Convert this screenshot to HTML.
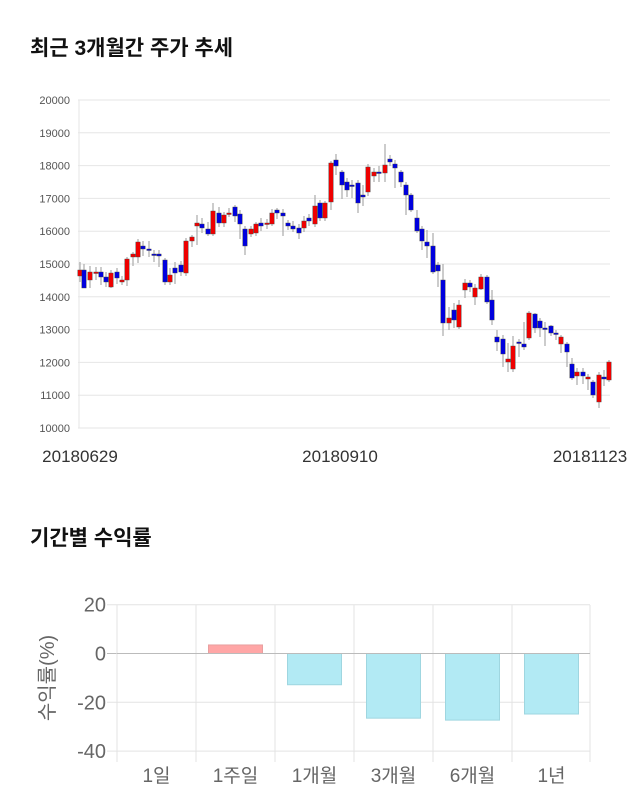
<!DOCTYPE html>
<html><head><meta charset="utf-8"><style>
body{margin:0;background:#fff;width:640px;height:810px;overflow:hidden}
svg{display:block}
</style></head><body>
<svg id="s" width="640" height="810" xmlns="http://www.w3.org/2000/svg" font-family="Liberation Sans, Noto Sans CJK KR, sans-serif">
<text x="30" y="55" font-size="21" font-weight="bold" fill="#111">최근 3개월간 주가 추세</text>
<text x="30" y="545" font-size="21" font-weight="bold" fill="#111">기간별 수익률</text>
<g id="grid"></g>
<g id="candles"></g>
<text x="80" y="462" font-size="17" fill="#333" text-anchor="middle">20180629</text>
<text x="340" y="462" font-size="17" fill="#333" text-anchor="middle">20180910</text>
<text x="590" y="462" font-size="17" fill="#333" text-anchor="middle">20181123</text>
<g id="bars"></g>
<text transform="translate(54,678) rotate(-90)" font-size="20" fill="#666" text-anchor="middle">수익률(%)</text>
</svg>
<script>
var ns="http://www.w3.org/2000/svg";
function el(p,t,a,txt){var e=document.createElementNS(ns,t);for(var k in a)e.setAttribute(k,a[k]);if(txt!=null)e.textContent=txt;document.getElementById(p).appendChild(e);return e;}
for(var i=0;i<=10;i++){var y=100+i*32.8;el('grid','line',{x1:78,x2:610,y1:y,y2:y,stroke:'#e6e6e6','stroke-width':1});
el('grid','text',{x:70,y:y+4,'font-size':11,fill:'#555','text-anchor':'end'},String(20000-i*1000));}
el('grid','line',{x1:79,x2:79,y1:100,y2:428,stroke:'#e6e6e6'});
var C=[[80,270,276,'r',262,282],[84,270,288,'b',264,288],[90,272,280,'r',266,288],[96,272,273,'r',267,280],[101,272,277,'b',267,285],[106,277,282,'b',272,287],[111,273,287,'r',270,288],[117,272,278,'b',268,284],[122,280,282,'r',276,285],[127,259,280,'r',257,286],[133,254,257,'r',252,266],[138,242,257,'r',239,263],[143,246,249,'b',241,256],[149,249,250,'b',241,257],[154,254,255,'b',250,262],[159,254,256,'b',250,267],[165,260,282,'b',258,285],[170,275,282,'r',268,285],[175,268,273,'b',262,284],[181,265,272,'b',261,276],[186,241,273,'r',238,276],[192,237,241,'r',235,247],[197,223,226,'r',215,245],[202,224,228,'b',218,233],[208,229,234,'b',222,236],[213,211,234,'r',203,236],[219,213,223,'b',207,227],[224,215,223,'r',212,227],[229,213,214,'r',208,217],[235,207,216,'b',205,222],[240,214,224,'b',210,239],[245,229,246,'b',226,255],[251,229,234,'r',226,237],[256,224,233,'r',222,236],[261,223,226,'b',218,231],[267,223,224,'r',219,229],[272,213,224,'r',209,226],[277,210,213,'b',208,219],[283,213,216,'b',209,236],[288,223,226,'b',220,230],[293,226,229,'b',221,232],[299,228,233,'b',224,239],[304,221,228,'r',216,232],[309,218,221,'b',214,226],[315,206,224,'r',195,227],[320,203,218,'b',200,221],[325,203,218,'r',201,221],[331,163,202,'r',161,210],[336,160,166,'b',154,175],[342,172,185,'b',170,199],[347,182,190,'b',178,197],[352,185,186,'b',180,198],[358,183,203,'b',180,213],[363,195,197,'b',185,206],[368,167,192,'r',164,196],[374,172,176,'r',168,182],[379,172,173,'b',166,182],[385,165,173,'r',144,182],[390,159,162,'b',155,166],[395,164,168,'b',160,188],[401,172,182,'b',170,187],[406,185,195,'b',182,215],[411,195,210,'b',193,212],[417,218,231,'b',210,233],[422,229,241,'b',226,250],[427,242,246,'b',230,258],[433,246,272,'b',233,274],[438,265,271,'b',262,287],[443,280,323,'b',264,336],[449,318,323,'r',307,330],[454,310,320,'b',303,328],[459,305,327,'r',300,329],[465,283,290,'r',279,298],[470,283,287,'b',280,292],[475,288,297,'r',284,305],[481,277,289,'r',274,290],[487,277,302,'b',275,304],[492,300,320,'b',290,325],[497,337,342,'b',330,351],[503,339,354,'b',335,367],[508,359,362,'r',343,372],[513,346,369,'r',336,372],[519,342,343,'b',339,357],[524,344,347,'b',322,350],[529,313,338,'r',311,340],[535,314,328,'b',313,333],[540,321,328,'b',318,337],[545,328,329,'b',322,346],[551,326,333,'b',325,336],[556,333,334,'b',330,340],[561,337,344,'r',335,353],[567,344,352,'b',342,367],[572,364,378,'b',358,380],[577,372,376,'r',368,385],[583,372,376,'b',368,384],[588,377,379,'r',374,390],[593,382,395,'b',380,398],[599,375,402,'r',372,408],[604,377,379,'b',370,386],[609,362,380,'r',360,382]];
C.forEach(function(c){var col=c[3]=='r'?'#ee0000':'#0000dd';
el('candles','line',{x1:c[0],x2:c[0],y1:c[4],y2:c[5],stroke:'#aaa','stroke-width':1.2});
el('candles','rect',{x:c[0]-2.2,y:c[1],width:4.4,height:Math.max(1.5,c[2]-c[1]),fill:col,stroke:'#444','stroke-width':0.4});});
var yv=function(v){return 653.5-v*2.44;};
[20,0,-20,-40].forEach(function(v){var y=yv(v);el('bars','line',{x1:107,x2:590,y1:y,y2:y,stroke:v==0?'#bbb':'#e3e3e3'});
el('bars','text',{x:106,y:y+7,'font-size':20,fill:'#666','text-anchor':'end'},String(v));});
[117,196,275,354,433,512,590].forEach(function(x){el('bars','line',{x1:x,x2:x,y1:605,y2:762,stroke:'#e3e3e3'});});
var B=[['1일',0],['1주일',3.5],['1개월',-12.8],['3개월',-26.5],['6개월',-27.3],['1년',-24.8]];
B.forEach(function(b,i){var cx=156.5+i*79;var y0=yv(0),y1=yv(b[1]);
if(b[1]!=0)el('bars','rect',{x:cx-27,y:Math.min(y0,y1),width:54,height:Math.abs(y1-y0),fill:b[1]>0?'#ffa6a6':'#b2eaf4',stroke:b[1]>0?'#e8a0a0':'#9fd6e0','stroke-width':1});
el('bars','text',{x:cx,y:782,'font-size':19,fill:'#666','text-anchor':'middle'},b[0]);});
el('bars','line',{x1:117,x2:590,y1:653.5,y2:653.5,stroke:'#bbb'});
</script>
</body></html>
